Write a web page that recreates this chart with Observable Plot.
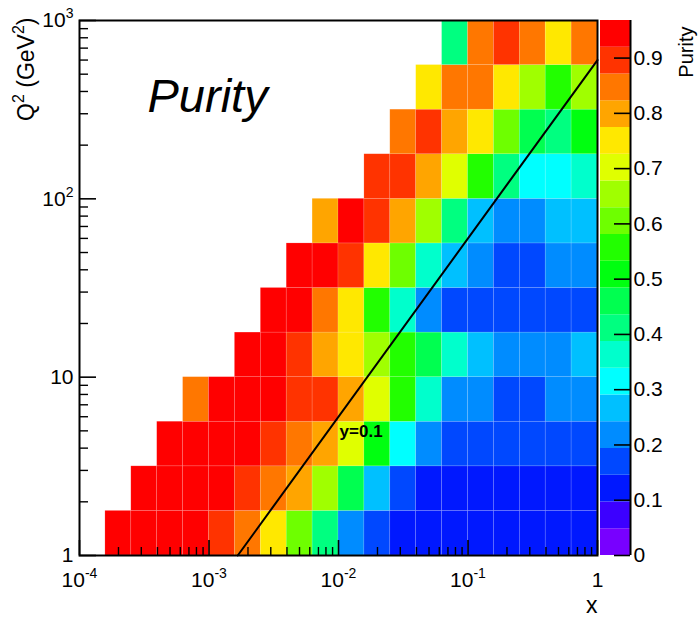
<!DOCTYPE html>
<html>
<head>
<meta charset="utf-8">
<script src="https://cdn.jsdelivr.net/npm/d3@7"></script>
<script src="https://cdn.jsdelivr.net/npm/@observablehq/plot@0.6"></script>
<style>
  body { margin: 0; background: #fff; }
  #chart { position: relative; width: 699px; height: 622px; }
  #chart svg { position: absolute; top: 0; overflow: visible; }
</style>
</head>
<body>
<div id="chart"></div>
<script>
// Binning: 5 log bins per decade in x (1e-4 .. 1), 4 log bins per decade in Q² (1 .. 1000)
const xLogMin = -4, xBinsPerDecade = 5;
const qBinsPerDecade = 4;

// Purity per Q² row, bottom row first; each row starts at the column given in rowFirstCol
const rowFirstCol = [1, 2, 3, 4, 6, 7, 8, 9, 11, 12, 13, 14];
const row0  = [0.95, 0.95, 0.95, 0.95, 0.90, 0.85, 0.75, 0.60, 0.41, 0.22, 0.17, 0.12, 0.12, 0.12, 0.12, 0.12, 0.12, 0.12, 0.12];
const row1  = [0.95, 0.95, 0.95, 0.95, 0.90, 0.85, 0.80, 0.65, 0.46, 0.27, 0.17, 0.12, 0.12, 0.12, 0.12, 0.12, 0.12, 0.12];
const row2  = [0.95, 0.95, 0.95, 0.95, 0.90, 0.85, 0.80, 0.70, 0.51, 0.31, 0.22, 0.17, 0.17, 0.17, 0.17, 0.17, 0.17];
const row3  = [0.85, 0.95, 0.95, 0.95, 0.90, 0.90, 0.80, 0.70, 0.56, 0.36, 0.22, 0.22, 0.17, 0.17, 0.22, 0.22];
const row4  = [0.95, 0.95, 0.90, 0.80, 0.75, 0.65, 0.56, 0.46, 0.36, 0.27, 0.22, 0.22, 0.22, 0.27];
const row5  = [0.95, 0.95, 0.85, 0.75, 0.56, 0.36, 0.22, 0.17, 0.17, 0.17, 0.17, 0.17, 0.17];
const row6  = [0.95, 0.95, 0.90, 0.75, 0.60, 0.36, 0.27, 0.22, 0.17, 0.17, 0.22, 0.22];
const row7  = [0.80, 0.95, 0.90, 0.80, 0.65, 0.41, 0.27, 0.22, 0.22, 0.27, 0.27];
const row8  = [0.90, 0.90, 0.80, 0.70, 0.56, 0.41, 0.31, 0.31, 0.36];
const row9  = [0.85, 0.90, 0.80, 0.75, 0.60, 0.46, 0.41, 0.51];
const row10 = [0.75, 0.85, 0.85, 0.75, 0.65, 0.56, 0.65];
const row11 = [0.41, 0.85, 0.90, 0.85, 0.75, 0.85];
const rowPurity = [row0, row1, row2, row3, row4, row5, row6, row7, row8, row9, row10, row11];

// Colour palette: 20 contour levels between 0 and zMax
const zMax = 0.968;
const nLevels = 20;
const palette = [
  "#7800ff", "#3c00ff", "#0018ff", "#0048ff", "#008cff",
  "#00c0ff", "#00ffff", "#00ffcc", "#00ff80", "#00ff50",
  "#00ff10", "#22ff00", "#6eff00", "#a0ff00", "#e0ff00",
  "#ffe800", "#ffa500", "#ff7700", "#ff3300", "#ff0000"
];

// Axis ticks and labels
const xMajor = [1e-4, 1e-3, 1e-2, 1e-1, 1];
const xTickLabels = ["10^-4", "10^-3", "10^-2", "10^-1", "1"];
const yMajor = [1, 10, 100, 1000];
const yTickLabels = ["1", "10", "10^2", "10^3"];
const zTicks = [0, 0.1, 0.2, 0.3, 0.4, 0.5, 0.6, 0.7, 0.8, 0.9];

// Line of constant inelasticity y = Q² / (s x)
const sBeam = 6000;   // GeV²
const yInel = 0.1;

const font = "'Liberation Sans', Arial, Helvetica, sans-serif";

// Build rectangles for the 2D histogram
const cells = [];
rowPurity.forEach((vals, j) => {
  vals.forEach((p, k) => {
    const i = rowFirstCol[j] + k;
    cells.push({
      x1: 10 ** (xLogMin + i / xBinsPerDecade),
      x2: 10 ** (xLogMin + (i + 1) / xBinsPerDecade),
      y1: 10 ** (j / qBinsPerDecade),
      y2: 10 ** ((j + 1) / qBinsPerDecade),
      purity: p
    });
  });
});

const thresholds = d3.range(1, nLevels).map(k => k * zMax / nLevels);
const colorScale = {type: "threshold", domain: thresholds, range: palette};

const minor = (d0, d1) => d3.range(d0, d1).flatMap(d => d3.range(2, 10).map(m => m * 10 ** d));
const xMinor = minor(-4, 0);
const yMinor = minor(0, 3);

const lineData = [1 / (sBeam * yInel), 1].map(x => ({x, q2: sBeam * x * yInel}));

const W = 699, H = 622;
const mL = 79, mR = 102, mT = 20, mB = 67;
const frameW = W - mL - mR, frameH = H - mT - mB;

const main = Plot.plot({
  width: W, height: H,
  marginLeft: mL, marginRight: mR, marginTop: mT, marginBottom: mB,
  style: {fontFamily: font, background: "white", overflow: "visible"},
  x: {type: "log", domain: [1e-4, 1]},
  y: {type: "log", domain: [1, 1000]},
  color: colorScale,
  marks: [
    Plot.rect(cells, {x1: "x1", x2: "x2", y1: "y1", y2: "y2", fill: "purity",
      stroke: "white", strokeOpacity: 0.22, strokeWidth: 0.6}),
    Plot.line(lineData, {x: "x", y: "q2", stroke: "black", strokeWidth: 2}),
    Plot.text([{x: 0.0102, q2: 4.96, label: "y=0.1"}], {x: "x", y: "q2", text: "label",
      textAnchor: "start", lineAnchor: "middle", fontWeight: "bold", fontSize: 17, fill: "black"}),
    Plot.text(["Purity"], {frameAnchor: "top-left", textAnchor: "start", lineAnchor: "middle",
      dx: 68, dy: 76, fontSize: 47, fontStyle: "italic", fill: "black"}),
    // inward ticks
    Plot.tickX(xMajor, {x: d => d, insetTop: frameH - 15, stroke: "black", strokeWidth: 1.6}),
    Plot.tickX(xMinor, {x: d => d, insetTop: frameH - 8, stroke: "black", strokeWidth: 1.4}),
    Plot.tickY(yMajor, {y: d => d, insetRight: frameW - 17, stroke: "black", strokeWidth: 1.6}),
    Plot.tickY(yMinor, {y: d => d, insetRight: frameW - 9, stroke: "black", strokeWidth: 1.4}),
    Plot.axisX({ticks: xMajor, tickSize: 0, tickPadding: 17, fontSize: 21,
      tickFormat: d => xTickLabels[xMajor.indexOf(d)], label: null}),
    Plot.axisY({ticks: yMajor, tickSize: 0, tickPadding: 6, fontSize: 21,
      tickFormat: d => yTickLabels[yMajor.indexOf(d)], label: null}),
    Plot.frame({stroke: "black", strokeWidth: 2}),
    Plot.text(["x"], {frameAnchor: "bottom-right", textAnchor: "end", lineAnchor: "middle",
      dy: 50, fontSize: 23, fill: "black"}),
    Plot.text(["Q^2 (GeV^2)"], {frameAnchor: "top-left", rotate: -90, textAnchor: "end",
      lineAnchor: "middle", dx: -53, dy: -3, fontSize: 23, fill: "black"})
  ]
});

// Colour bar (palette axis)
const levels = d3.range(nLevels).map(k => ({lo: k * zMax / nLevels, hi: (k + 1) * zMax / nLevels}));
const cbLeft = 600, cbWidth = 30;
const bar = Plot.plot({
  width: W - cbLeft, height: H,
  marginLeft: 0, marginRight: W - cbLeft - cbWidth, marginTop: mT, marginBottom: mB,
  style: {fontFamily: font, overflow: "visible"},
  x: {domain: [0, 1], axis: null},
  y: {domain: [0, zMax]},
  color: colorScale,
  marks: [
    Plot.rect(levels, {x1: 0, x2: 1, y1: "lo", y2: "hi", fill: d => (d.lo + d.hi) / 2}),
    Plot.tickY(zTicks, {y: d => d, insetLeft: 14, stroke: "black", strokeWidth: 1.6}),
    Plot.ruleX([1], {stroke: "black", strokeWidth: 2}),
    Plot.axisY({anchor: "right", ticks: zTicks, tickSize: 0, tickPadding: 3, fontSize: 21,
      tickFormat: d => d === 0 ? "0" : d.toFixed(1), label: null}),
    Plot.text(["Purity"], {frameAnchor: "top-right", rotate: -90, textAnchor: "end",
      lineAnchor: "middle", dx: 56, dy: 6, fontSize: 20, fill: "black"})
  ]
});

// Render "a^b" pieces of labels as raised, smaller exponents
function superscripts(svg) {
  const ns = "http://www.w3.org/2000/svg";
  svg.querySelectorAll("text").forEach(t => {
    const s = t.textContent;
    if (!s.includes("^")) return;
    let el = t, fs = NaN;
    while (el && el.getAttribute) {
      const v = el.getAttribute("font-size");
      if (v) { fs = parseFloat(v); break; }
      el = el.parentNode;
    }
    if (!isFinite(fs)) fs = 21;
    const supSize = Math.round(fs * 0.68), raise = Math.round(fs * 0.42);
    const parts = s.split(/\^(-?\d+)/);
    while (t.firstChild) t.removeChild(t.firstChild);
    let raised = false;
    parts.forEach((p, k) => {
      if (!p) return;
      const ts = document.createElementNS(ns, "tspan");
      ts.textContent = p;
      if (k % 2) {
        ts.setAttribute("font-size", supSize);
        ts.setAttribute("dy", -raise);
        raised = true;
      } else if (raised) {
        ts.setAttribute("dy", raise);
        raised = false;
      }
      t.appendChild(ts);
    });
  });
}
superscripts(main);

main.style.left = "0px";
bar.style.left = cbLeft + "px";
const chart = document.getElementById("chart");
chart.append(main, bar);
</script>
</body>
</html>
